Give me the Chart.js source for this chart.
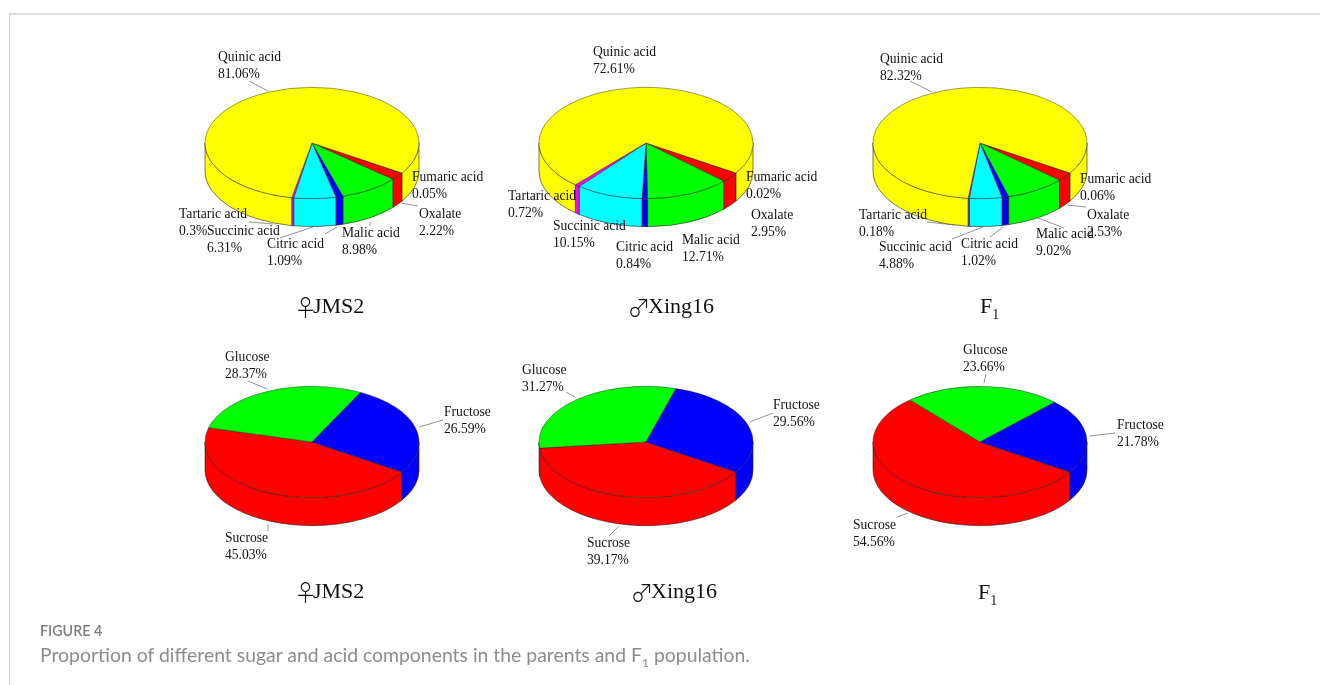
<!DOCTYPE html>
<html>
<head>
<meta charset="utf-8">
<title>Figure 4</title>
<script src="https://cdn.jsdelivr.net/npm/chart.js@4/dist/chart.umd.min.js"></script>
<style>
html,body{margin:0;padding:0;background:#fff;width:1320px;height:685px;overflow:hidden;}
#frame{position:absolute;left:9px;top:13px;width:1320px;height:700px;border-left:1px solid #cfcfcf;border-top:2px solid #dcdcdc;}
canvas{position:absolute;}
svg{position:absolute;left:0;top:0;}
.lab{position:absolute;font:13.6px/16.5px "Liberation Serif",serif;color:#111;white-space:pre;}
.ttl{position:absolute;font:22px/26px "Liberation Serif",serif;color:#111;white-space:pre;}
.ttl sub{font-size:14px;line-height:0;vertical-align:-6px;}
.ttl i{font:normal 23px/26px "Noto Sans CJK JP",sans-serif;display:inline-block;text-align:center;vertical-align:top;overflow:visible;}
.ttl i b{font-weight:300;display:block;margin:0 -6px;}
#figno{position:absolute;left:40px;top:623px;font:600 14.3px/16px Lato,sans-serif;color:#7d7d7d;}
#cap{position:absolute;left:40px;top:643px;font:19.4px/24px Lato,sans-serif;color:#8c8c8c;white-space:pre;}
#cap sub{font-size:12px;line-height:0;}
</style>
</head>
<body>
<div id="frame"></div>
<div id="charts"></div>
<svg id="leaders" width="1320" height="685"></svg>
<div id="texts"></div>
<div id="figno">FIGURE 4</div>
<div id="cap">Proportion of different sugar and acid components in the parents and F<sub>1</sub> population.</div>
<script>
// categories, clockwise from the start angle
var acidNames=['Fumaric acid','Oxalate','Malic acid','Citric acid','Succinic acid','Tartaric acid','Quinic acid'];
var sugarNames=['Sucrose','Glucose','Fructose'];
var acidJMS2=[0.05,2.22,8.98,1.09,6.31,0.3,81.06];
var acidXing16=[0.02,2.95,12.71,0.84,10.15,0.72,72.61];
var acidF1=[0.06,2.53,9.02,1.02,4.88,0.18,82.32];
var sugarJMS2=[45.03,28.37,26.59];
var sugarXing16=[39.17,31.27,29.56];
var sugarF1=[54.56,23.66,21.78];
var acidColors=['#000000','#ff0000','#00ff00','#0000ff','#00ffff','#ff00ff','#ffff00'];
var sugarColors=['#ff0000','#00ff00','#0000ff'];

var pieRadius=107, squash=0.52, wallDepth=28;

// label text left/middle of first line, same order as the names
var posA1=[[412,177],[419,214],[342,233],[267,244],[207,231],[179,214],[218,57]];
var posA2=[[746,177],[751,215],[682,240],[616,247],[553,226],[508,196],[593,52]];
var posA3=[[1080,179],[1087,215],[1036,234],[961,244],[879,247],[859,215],[880,59]];
var posS1=[[225,538],[225,357],[444,412]];
var posS2=[[587,543],[522,370],[773,405]];
var posS3=[[853,525],[963,350],[1117,425]];

// leader lines
var linesA1=[[401,203,418,206],[370,222,370,226],[337,227,325,234],[313,227,280,238],[249,222,273,224],[249,81,268,91]];
var linesA3=[[1067,205,1086,207],[1038,218,1064,228],[1003,227,990,237],[983,227,952,239],[927,222,955,225],[910,81,932,92]];
var linesS1=[[268,524,268,531],[248,381,267,389],[419,427,443,420]];
var linesS2=[[619,526,609,536],[566,392,575,397],[750,422,773,413]];
var linesS3=[[908,513,897,517],[986,374,984,383],[1090,436,1115,433]];

var pie3d={
	id:'pie3d',
	beforeDatasetsDraw:function(chart){
		var ctx=chart.ctx, arcs=chart.getDatasetMeta(0).data;
		var cx=arcs[0].x, cy=arcs[0].y;
		// side wall, only the front half of the rim shows
		arcs.forEach(function(arc){
			[[0,Math.PI],[2*Math.PI,3*Math.PI]].forEach(function(w){
				var a=Math.max(arc.startAngle,w[0]), b=Math.min(arc.endAngle,w[1]);
				if(b<=a) return;
				ctx.beginPath();
				ctx.ellipse(cx,cy,pieRadius,pieRadius*squash,0,a,b);
				ctx.ellipse(cx,cy+wallDepth,pieRadius,pieRadius*squash,0,b,a,true);
				ctx.closePath();
				ctx.fillStyle=arc.options.backgroundColor;
				ctx.fill();
				ctx.lineWidth=0.6;
				ctx.strokeStyle='#222';
				ctx.stroke();
			});
		});
		ctx.save();
		ctx.translate(cx,cy);
		ctx.scale(1,squash);
		ctx.translate(-cx,-cy);
	},
	afterDatasetsDraw:function(chart){
		chart.ctx.restore();
	}
};

function addPie(cx,cy,names,values,colors,pos,lines,title,tx,ty){
	var c=document.createElement('canvas');
	c.width=230;c.height=240;
	c.style.left=(cx-115)+'px';
	c.style.top=(cy-120)+'px';
	document.getElementById('charts').appendChild(c);
	new Chart(c,{
		type:'pie',
		data:{labels:names,datasets:[{data:values,backgroundColor:colors,borderColor:'#222',borderWidth:0.6}]},
		options:{
			responsive:false,animation:false,rotation:122.7,radius:pieRadius,
			plugins:{legend:{display:false},tooltip:{enabled:false}},
			events:[]
		},
		plugins:[pie3d]
	});
	var box=document.getElementById('texts');
	names.forEach(function(n,i){
		var d=document.createElement('div');
		d.className='lab';
		d.style.left=pos[i][0]+'px';
		d.style.top=(pos[i][1]-8)+'px';
		d.textContent=n+'\n'+values[i]+'%';
		box.appendChild(d);
	});
	var svg=document.getElementById('leaders');
	lines.forEach(function(l){
		var e=document.createElementNS('http://www.w3.org/2000/svg','line');
		e.setAttribute('x1',l[0]);e.setAttribute('y1',l[1]);
		e.setAttribute('x2',l[2]);e.setAttribute('y2',l[3]);
		e.setAttribute('stroke','#666');e.setAttribute('stroke-width','0.7');
		svg.appendChild(e);
	});
	var t=document.createElement('div');
	t.className='ttl';
	t.style.left=tx+'px';
	t.style.top=(ty-13)+'px';
	t.innerHTML=title;
	box.appendChild(t);
}

addPie(312,143,acidNames,acidJMS2,acidColors,posA1,linesA1,'<i style="width:15px"><b>♀</b></i>JMS2',298,306);
addPie(646,143,acidNames,acidXing16,acidColors,posA2,[],'<i style="width:18px"><b>♂</b></i>Xing16',630,306);
addPie(980,143,acidNames,acidF1,acidColors,posA3,linesA3,'F<sub>1</sub>',980,306);
addPie(312,441.7,sugarNames,sugarJMS2,sugarColors,posS1,linesS1,'<i style="width:15px"><b>♀</b></i>JMS2',298,591);
addPie(646,441.7,sugarNames,sugarXing16,sugarColors,posS2,linesS2,'<i style="width:18px"><b>♂</b></i>Xing16',633,591);
addPie(980,441.7,sugarNames,sugarF1,sugarColors,posS3,linesS3,'F<sub>1</sub>',978,592);
</script>
</body>
</html>
